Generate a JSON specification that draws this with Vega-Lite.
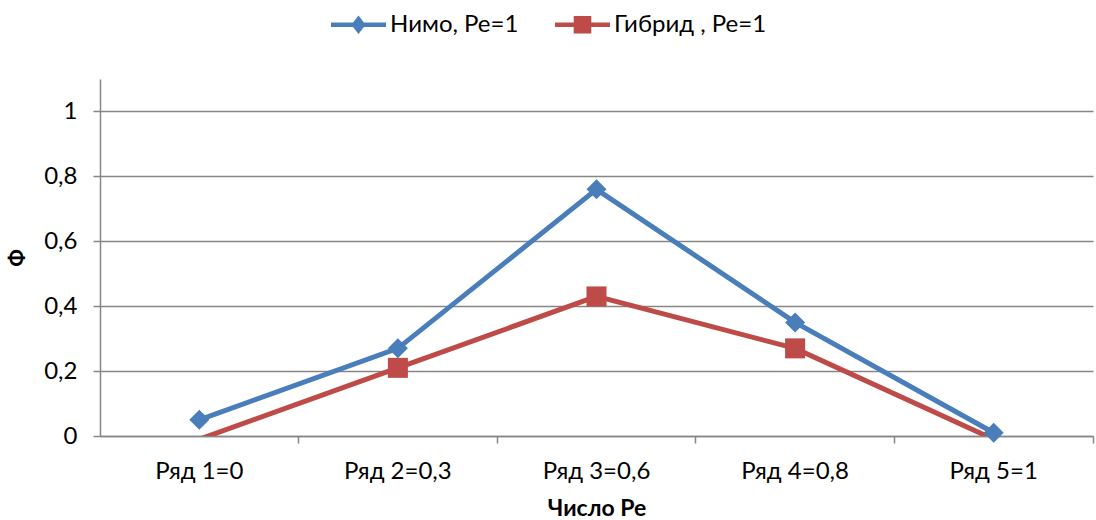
{
  "$schema": "https://vega.github.io/schema/vega-lite/v6.json",
  "width": 993,
  "height": 357,
  "autosize": "none",
  "padding": {"left": 100, "top": 79, "right": 3, "bottom": 84},
  "background": "white",
  "config": {
    "font": "Lato",
    "view": {"stroke": null},
    "axis": {"labelFont": "Lato", "titleFont": "Lato", "labelColor": "#000000", "titleColor": "#000000"}
  },
  "data": {
    "values": [
      {"cat": "Ряд 1=0", "series": "Нимо, Ре=1", "value": 0.05},
      {"cat": "Ряд 2=0,3", "series": "Нимо, Ре=1", "value": 0.27},
      {"cat": "Ряд 3=0,6", "series": "Нимо, Ре=1", "value": 0.76},
      {"cat": "Ряд 4=0,8", "series": "Нимо, Ре=1", "value": 0.35},
      {"cat": "Ряд 5=1", "series": "Нимо, Ре=1", "value": 0.01},
      {"cat": "Ряд 1=0", "series": "Гибрид , Ре=1", "value": -0.01},
      {"cat": "Ряд 2=0,3", "series": "Гибрид , Ре=1", "value": 0.21},
      {"cat": "Ряд 3=0,6", "series": "Гибрид , Ре=1", "value": 0.43},
      {"cat": "Ряд 4=0,8", "series": "Гибрид , Ре=1", "value": 0.27},
      {"cat": "Ряд 5=1", "series": "Гибрид , Ре=1", "value": -0.01}
    ]
  },
  "encoding": {
    "x": {
      "field": "cat",
      "type": "ordinal",
      "sort": null,
      "scale": {"type": "band", "paddingInner": 0, "paddingOuter": 0},
      "axis": {
        "title": "Число Ре",
        "titleFontSize": 23,
        "titleFontWeight": "bold",
        "titlePadding": 14,
        "labelAngle": 0,
        "labelFontSize": 24,
        "labelPadding": 16,
        "bandPosition": 1,
        "tickSize": 7,
        "tickColor": "#868686",
        "tickWidth": 1.5,
        "domainColor": "#868686",
        "domainWidth": 1.5,
        "grid": false
      }
    },
    "y": {
      "field": "value",
      "type": "quantitative",
      "scale": {"domain": [0, 1.1], "nice": false, "zero": false},
      "axis": {
        "title": "Ф",
        "titleFontSize": 22,
        "titleFontWeight": "bold",
        "titlePadding": 14,
        "values": [0, 0.2, 0.4, 0.6, 0.8, 1],
        "labelExpr": "replace(format(datum.value, '~g'), '.', ',')",
        "labelFontSize": 24,
        "labelPadding": 16,
        "tickSize": 7,
        "tickColor": "#868686",
        "tickWidth": 1.5,
        "domainColor": "#868686",
        "domainWidth": 1.5,
        "grid": true,
        "gridColor": "#868686",
        "gridWidth": 1.5
      }
    }
  },
  "layer": [
    {
      "mark": {"type": "line", "strokeWidth": 5, "clip": true},
      "encoding": {
        "stroke": {
          "field": "series",
          "type": "nominal",
          "sort": null,
          "scale": {"domain": ["Нимо, Ре=1", "Гибрид , Ре=1"], "range": ["#4a7ebb", "#be4b48"]},
          "legend": null
        }
      }
    },
    {
      "transform": [{"filter": "datum.value >= 0 && datum.series == 'Нимо, Ре=1'"}],
      "mark": {"type": "point", "filled": true, "opacity": 1, "size": 400, "shape": "diamond", "color": "#4a7ebb"},
      "encoding": {}
    },
    {
      "transform": [{"filter": "datum.value >= 0 && datum.series == 'Гибрид , Ре=1'"}],
      "mark": {"type": "point", "filled": true, "opacity": 1, "size": 400, "shape": "square", "color": "#be4b48"},
      "encoding": {}
    },
    {
      "mark": {"type": "point", "filled": true, "opacity": 0},
      "encoding": {
        "color": {
          "field": "series",
          "type": "nominal",
          "sort": null,
          "scale": {"domain": ["Нимо, Ре=1", "Гибрид , Ре=1"], "range": ["#4a7ebb", "#be4b48"]},
          "legend": {
            "title": null,
            "orient": "none",
            "legendX": 231,
            "legendY": -82,
            "direction": "horizontal",
            "symbolSize": 3025,
            "symbolStrokeWidth": 0,
            "symbolOpacity": 1,
            "labelFontSize": 24,
            "labelFont": "Lato",
            "labelColor": "#000000",
            "labelOffset": 4,
            "columnPadding": 36,
            "padding": 0
          }
        },
        "shape": {
          "field": "series",
          "type": "nominal",
          "sort": null,
          "scale": {
            "domain": ["Нимо, Ре=1", "Гибрид , Ре=1"],
            "range": [
              "M-1,-0.08H1V0.08H-1ZM0,-0.34L0.26,0L0,0.34L-0.26,0Z",
              "M-1,-0.08H1V0.08H-1ZM-0.32,-0.32H0.32V0.32H-0.32Z"
            ]
          },
          "legend": {
            "title": null,
            "orient": "none",
            "legendX": 231,
            "legendY": -82,
            "direction": "horizontal",
            "symbolSize": 3025,
            "symbolStrokeWidth": 0,
            "symbolOpacity": 1,
            "labelFontSize": 24,
            "labelFont": "Lato",
            "labelColor": "#000000",
            "labelOffset": 4,
            "columnPadding": 36,
            "padding": 0
          }
        }
      }
    }
  ],
  "resolve": {
    "scale": {"color": "independent", "shape": "independent"},
    "legend": {"color": "independent", "shape": "independent"}
  }
}
